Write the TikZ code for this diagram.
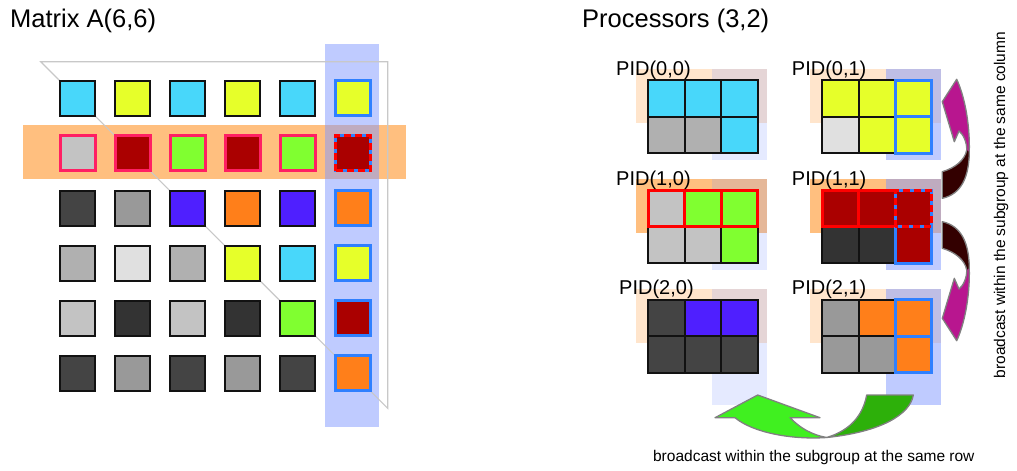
\documentclass[tikz,border=0pt]{standalone}
\usepackage{fontspec}
\setmainfont{Liberation Sans}
\definecolor{cy}{HTML}{48D7FA}
\definecolor{ye}{HTML}{E6FF2A}
\definecolor{gr}{HTML}{80FF30}
\definecolor{dr}{HTML}{AA0000}
\definecolor{vi}{HTML}{4F1FFF}
\definecolor{og}{HTML}{FF7F1A}
\definecolor{kt}{HTML}{333333}
\definecolor{kf}{HTML}{444444}
\definecolor{kn}{HTML}{999999}
\definecolor{kb}{HTML}{B0B0B0}
\definecolor{kc}{HTML}{C3C3C3}
\definecolor{ke}{HTML}{E0E0E0}
\definecolor{pinkc}{HTML}{FF1F63}
\definecolor{bluec}{HTML}{2F80FF}
\definecolor{bandor}{HTML}{FF8000}
\definecolor{bandbl}{HTML}{8099FF}
\definecolor{mag}{HTML}{B8168F}
\definecolor{dk}{HTML}{330000}
\definecolor{lg}{HTML}{40F020}
\definecolor{dg}{HTML}{2DB00A}
\definecolor{arrgray}{HTML}{808080}
\definecolor{tri}{HTML}{C8C8C8}
\tikzset{
  sq/.style={minimum size=35pt,inner sep=0pt,outer sep=0pt,line width=2pt,draw=black!93},
  cell/.style={minimum width=36.5pt,minimum height=36.5pt,inner sep=0pt,outer sep=0pt,line width=2pt,draw=black!93},
  pkb/.style={draw=pinkc,line width=3pt},
  blb/.style={draw=bluec,line width=3pt},
  rdb/.style={draw=red,line width=3pt},
  rdd/.style={draw=red,line width=3pt,dash pattern=on 7pt off 4pt},
  title/.style={font=\fontsize{25.5}{30}\selectfont,inner sep=0pt,anchor=base west},
  pid/.style={font=\fontsize{20}{24}\selectfont,inner sep=0pt,anchor=base west},
  note/.style={font=\fontsize{15.5}{18}\selectfont,inner sep=0pt,anchor=base},
  arrline/.style={draw=arrgray,line width=1.3pt,line join=round},
}
\newcommand\pgrid[9]{%
  \node[cell,fill=#4] (#1a) at (#2+18.25,#3+18.25) {};
  \node[cell,fill=#5] (#1b) at (#2+54.75,#3+18.25) {};
  \node[cell,fill=#6] (#1c) at (#2+91.25,#3+18.25) {};
  \node[cell,fill=#7] (#1d) at (#2+18.25,#3+54.75) {};
  \node[cell,fill=#8] (#1e) at (#2+54.75,#3+54.75) {};
  \node[cell,fill=#9] (#1f) at (#2+91.25,#3+54.75) {};
}
\newcommand\pbg[5]{%
  \fill[bandor,fill opacity=#3] (#1-12,#2-11) rectangle (#1+119,#2+43);
  \fill[bandbl,fill opacity=#4] (#1+64,#2-11) rectangle (#1+119,#2+#5);
}
\newcommand\colarrow{%
  \fill[mag] (956.7,79.3) .. controls (964,95) and (970,122) .. (969.3,152)
    .. controls (969,176) and (962,194) .. (942.3,198.3) -- (942.3,171.7)
    .. controls (955,168) and (965,160) .. (966.7,150)
    .. controls (967,142) and (963,134) .. (959,131) -- (954.3,141.7) -- (942.3,101.7) -- cycle;
  \fill[dk] (969.3,152) .. controls (969,176) and (962,194) .. (942.3,198.3) -- (942.3,171.7)
    .. controls (955,168) and (965,160) .. (966.7,150) -- cycle;
  \path[arrline] (956.7,79.3) .. controls (964,95) and (970,122) .. (969.3,152)
    .. controls (969,176) and (962,194) .. (942.3,198.3) -- (942.3,171.7)
    .. controls (955,168) and (965,160) .. (966.7,150)
    .. controls (967,142) and (963,134) .. (959,131) -- (954.3,141.7) -- (942.3,101.7) -- cycle;
}
\begin{document}
\begin{tikzpicture}[x=1pt,y=-1pt]
\fill[white] (0,0) rectangle (1017,471);
\useasboundingbox (0,0) rectangle (1017,471);

% titles
\node[title] (t1) at (10,27.7) {Matrix A(6,6)};
\node[title] (t2) at (582,27.7) {Processors (3,2)};

% left bands
\fill[bandor,fill opacity=0.5] (22.7,125) rectangle (406,179);
\fill[bandbl,fill opacity=0.5] (325,43.7) rectangle (379.3,426.7);
\draw[tri,line width=1.1pt] (40.7,61.7) -- (387.7,61.7) -- (387.7,408.3) -- cycle;

% left matrix
\foreach \row [count=\i from 0] in {{cy,ye,cy,ye,cy,ye},{kc,dr,gr,dr,gr,dr},{kf,kn,vi,og,vi,og},{kb,ke,kb,ye,cy,ye},{kc,kt,kc,kt,gr,dr},{kf,kn,kf,kn,kf,og}}
  \foreach \c [count=\j from 0] in \row
    \node[sq,fill=\c] (m\i\j) at ({77.5+55*\j},{98+55*\i}) {};
\foreach \j in {0,...,4} \draw[pkb] (m1\j.south west) rectangle (m1\j.north east);
\foreach \i in {0,...,5} \draw[blb] (m\i5.south west) rectangle (m\i5.north east);
\draw[rdd] (m15.south west) rectangle (m15.north east);

% processor backgrounds
\pbg{648.3}{80}{0.2}{0.2}{80}
\pbg{648.3}{190}{0.5}{0.2}{80}
\pbg{648.3}{299.5}{0.2}{0.2}{105.5}
\pbg{822}{80}{0.2}{0.5}{80}
\pbg{822}{190}{0.5}{0.5}{80}
\pbg{822}{299.5}{0.2}{0.5}{105.5}

% processor grids
\pgrid{p00}{648.3}{80}{cy}{cy}{cy}{kb}{kb}{cy}
\pgrid{p10}{648.3}{190}{kc}{gr}{gr}{kc}{kc}{gr}
\pgrid{p20}{648.3}{299.5}{kf}{vi}{vi}{kf}{kf}{kf}
\pgrid{p01}{822}{80}{ye}{ye}{ye}{ke}{ye}{ye}
\pgrid{p11}{822}{190}{dr}{dr}{dr}{kt}{kt}{dr}
\pgrid{p21}{822}{299.5}{kn}{og}{og}{kn}{kn}{og}
\foreach \n in {p10a,p10b,p10c,p11a,p11b} \draw[rdb] (\n.south west) rectangle (\n.north east);
\foreach \n in {p01c,p01f,p11c,p11f,p21c,p21f} \draw[blb] (\n.south west) rectangle (\n.north east);
\draw[rdd] (p11c.south west) rectangle (p11c.north east);

% labels
\node[pid] (l00) at (616,75) {PID(0,0)};
\node[pid] (l10) at (616,185) {PID(1,0)};
\node[pid] (l20) at (619,294.5) {PID(2,0)};
\node[pid] (l01) at (791.7,75) {PID(0,1)};
\node[pid] (l11) at (791.7,185) {PID(1,1)};
\node[pid] (l21) at (791.7,294.5) {PID(2,1)};

% column broadcast arrows
\colarrow
\begin{scope}[shift={(0,420)},yscale=-1]
\colarrow
\end{scope}

% row broadcast arrow
\fill[lg] (757.7,395) -- (820,417.7) -- (790,417.7)
  .. controls (800,428) and (812,435) .. (826.7,437.5)
  .. controls (790,440) and (752,432) .. (735,417.7) -- (715,417.7) -- cycle;
\fill[dg] (826.7,437.5) .. controls (880,432) and (910,415) .. (913.3,395) -- (866.7,395)
  .. controls (862,420) and (845,432) .. (826.7,437.5) -- cycle;
\path[arrline] (757.7,395) -- (820,417.7) -- (790,417.7)
  .. controls (800,428) and (812,435) .. (826.7,437.5)
  .. controls (790,440) and (752,432) .. (735,417.7) -- (715,417.7) -- cycle;
\path[arrline] (826.7,437.5) .. controls (880,432) and (910,415) .. (913.3,395) -- (866.7,395)
  .. controls (862,420) and (845,432) .. (826.7,437.5) -- cycle;

% notes
\node[note] (n1) at (813.8,461.5) {broadcast within the subgroup at the same row};
\node[note,rotate=90] (n2) at (1005,205) {broadcast within the subgroup at the same column};
\end{tikzpicture}
\end{document}
